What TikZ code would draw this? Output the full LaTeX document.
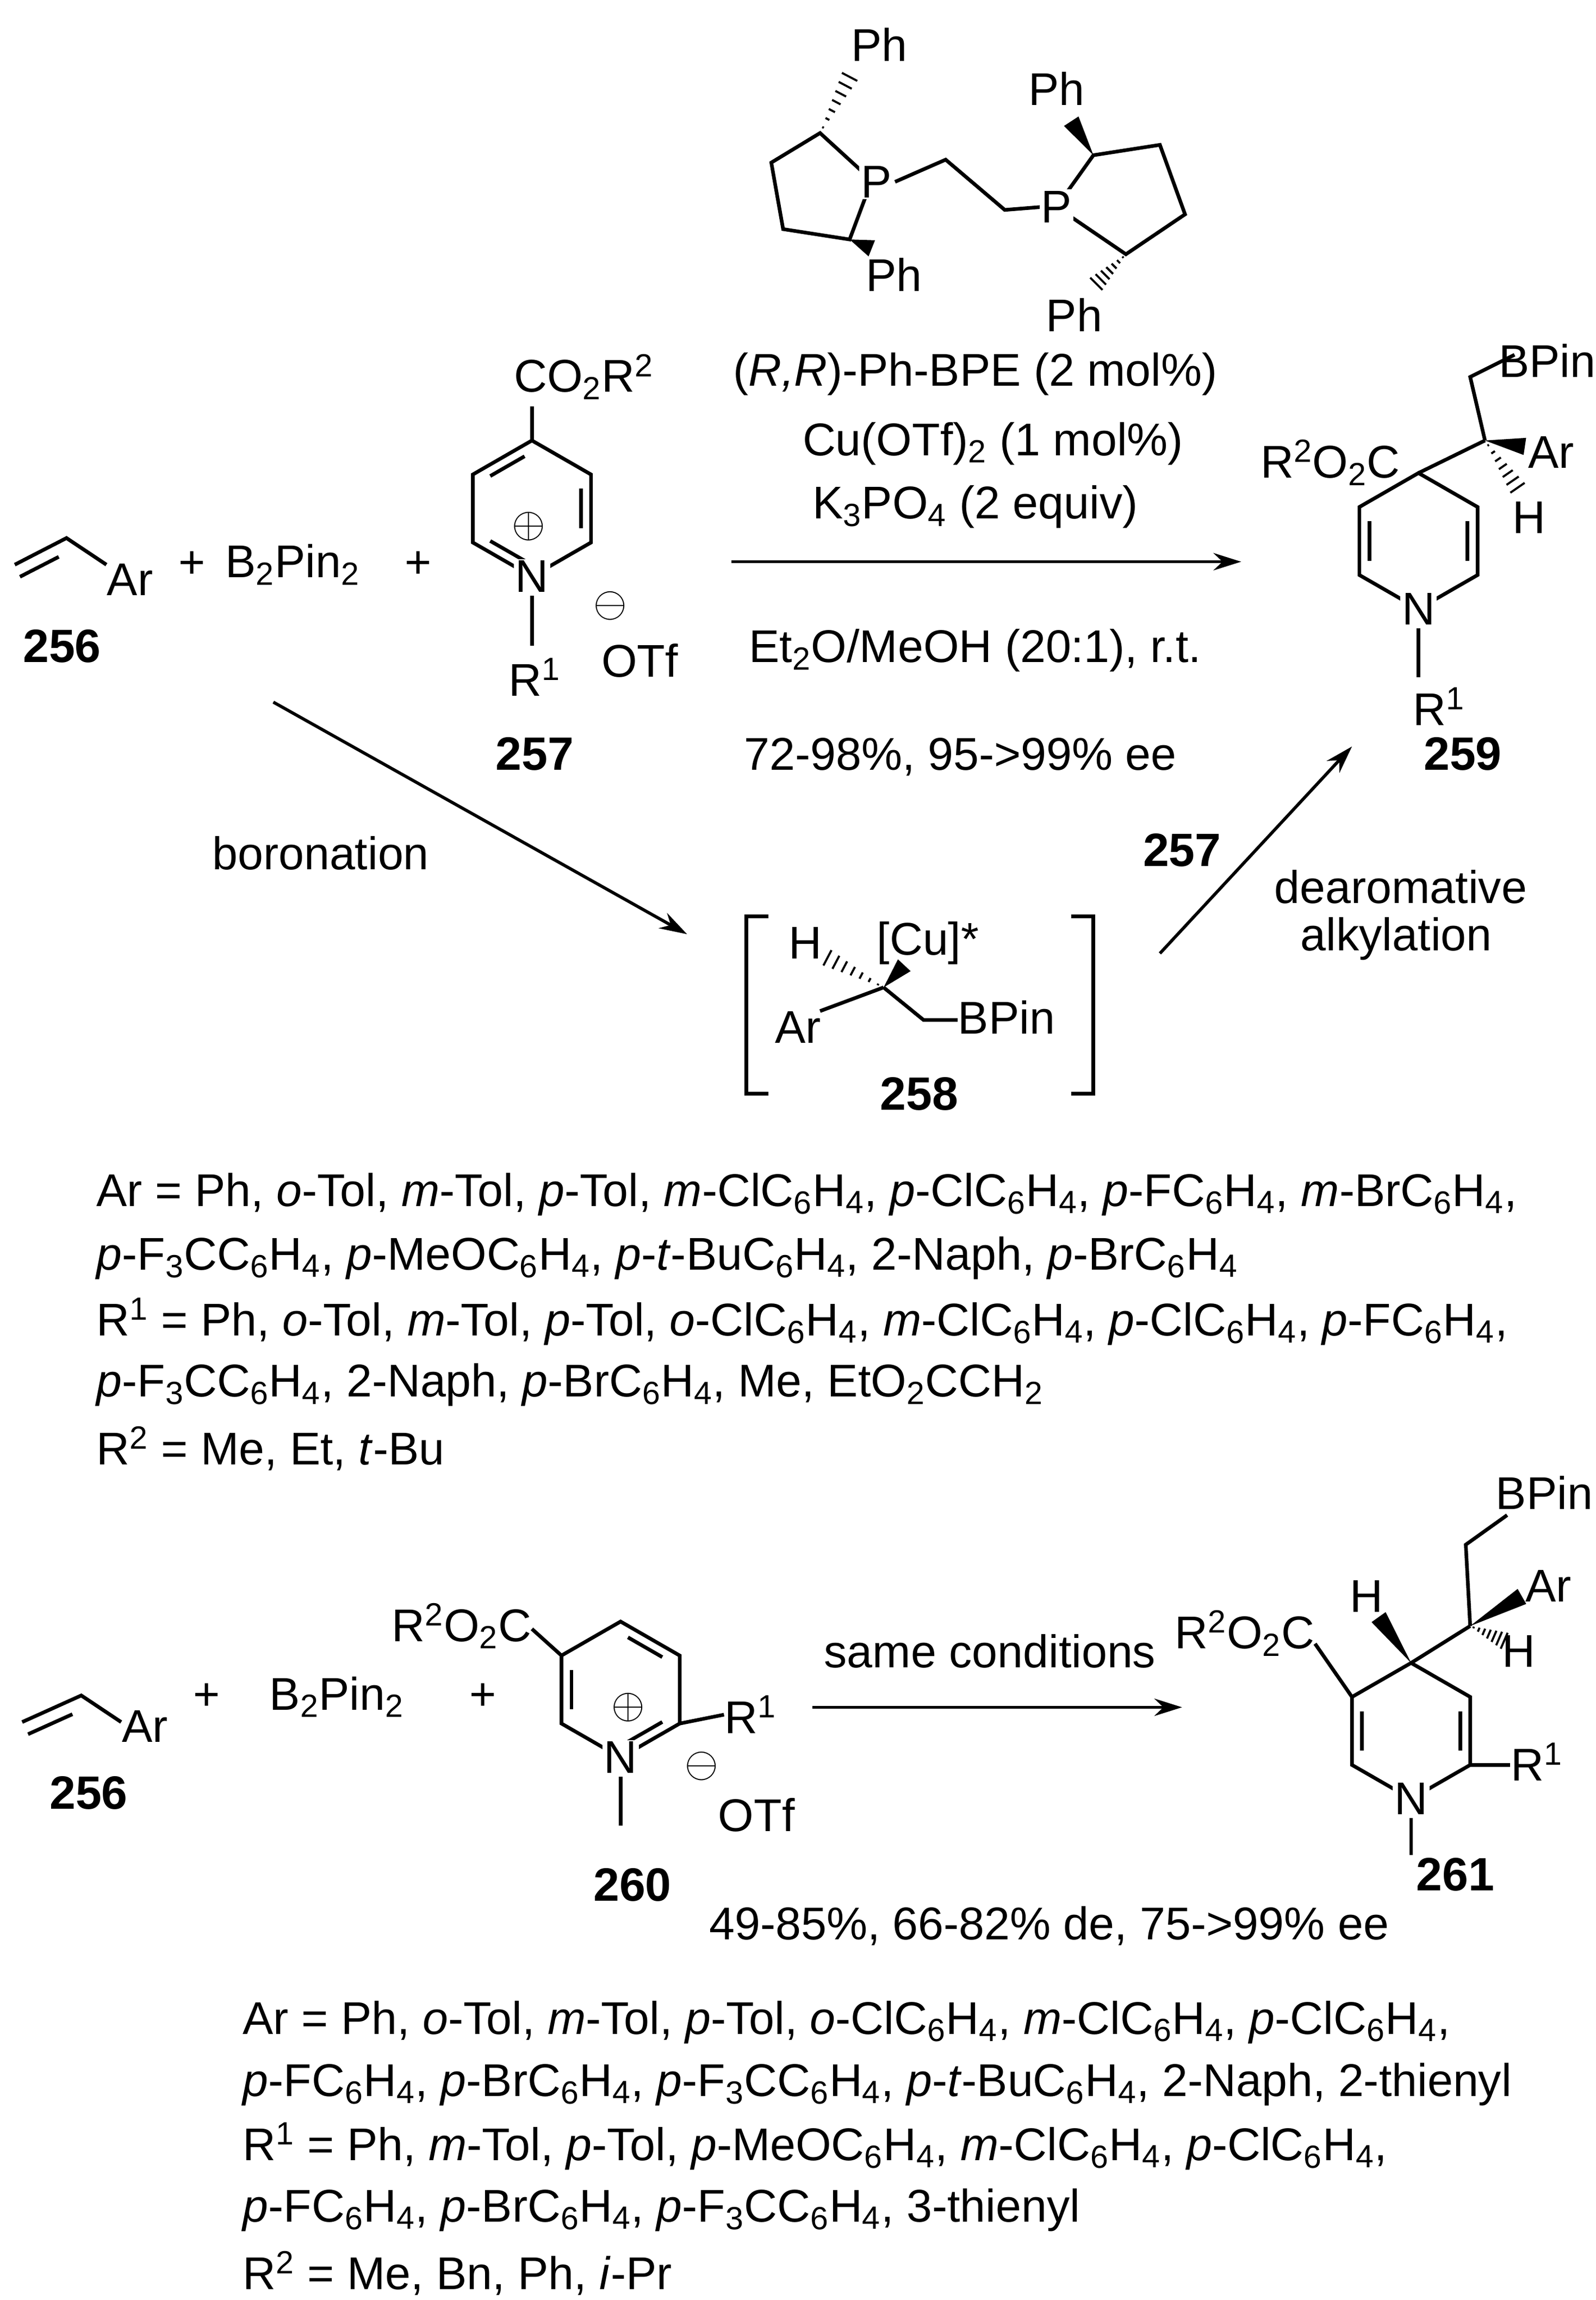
\documentclass[tikz,border=0pt]{standalone}
\usepackage{fontspec}
\setmainfont{Liberation Sans}
\usetikzlibrary{calc,arrows.meta}
\newcommand{\dbl}[3]{\draw ($(#1)!.15!(#2)!.17!(#3)$) -- ($(#2)!.15!(#1)!.17!(#3)$);}
\newcommand{\wdg}[2]{\fill (#1) -- ($(#2)!5pt!90:(#1)$) -- ($(#2)!5pt!-90:(#1)$) -- cycle;}
\newcommand{\hsh}[2]{\foreach \t in {0.1,0.25,...,1.0}{\draw[line width=1.2pt] ($(#1)!\t!(#2)!\t*5pt!90:(#1)$) -- ($(#1)!\t!(#2)!\t*5pt!-90:(#1)$);}}
\begin{document}
\begin{tikzpicture}[x=0.03cm,y=-0.03cm,line width=2.1pt,
  txt/.style={inner sep=1pt,font=\fontsize{26.5}{30}\selectfont},
  atom/.style={txt,fill=white,inner sep=1pt},
  lbl/.style={txt,font=\fontsize{27}{30}\selectfont\bfseries},
  rxn/.style={-{Stealth[length=16pt,width=10pt]},line width=1.8pt}]
\useasboundingbox (0,0) rectangle (1080,1556);
% ---- ligand
\coordinate (a1) at (555,90); \coordinate (a2) at (522,110); \coordinate (a3) at (530,155);
\coordinate (a4) at (575,162); \coordinate (a5) at (590,122);
\draw (a5)--(a1)--(a2)--(a3)--(a4)--(a5);
\node[atom] (P1) at (593,123) {P};
\node[txt] (ph1) at (595,30) {Ph}; \hsh{a1}{575,52}
\node[txt] (ph2) at (605,186) {Ph}; \wdg{a4}{590,168}
\coordinate (e1) at (640,108); \coordinate (e2) at (680,142);
\draw (P1.east) -- (e1) -- (e2) -- (705,140);
\coordinate (b1) at (740,105); \coordinate (b2) at (785,98); \coordinate (b3) at (802,145);
\coordinate (b4) at (762,172); \coordinate (b5) at (715,140);
\draw (b5)--(b1)--(b2)--(b3)--(b4)--(b5);
\node[atom] (P2) at (715,140) {P};
\node[txt] (ph3) at (715,60) {Ph}; \wdg{b1}{725,82}
\node[txt] (ph4) at (727,213) {Ph}; \hsh{b4}{742,192}
\node[txt] at (660,253) {(\textit{R,R})-Ph-BPE (2 mol\%)};
\node[txt] at (672,300) {Cu(OTf)\textsubscript{2} (1 mol\%)};
\node[txt] at (660,343) {K\textsubscript{3}PO\textsubscript{4} (2 equiv)};
\node[txt] at (660,440) {Et\textsubscript{2}O/MeOH (20:1), r.t.};
\node[txt] at (650,512) {72-98\%, 95->99\% ee};
% ---- styrene 256
\coordinate (s1) at (10,382); \coordinate (s2) at (45,364); \coordinate (s3) at (72,382);
\draw (s1)--(s2)--(s3); \draw ($(s1)!.1!(s2)+(0,10)$)--($(s2)!.15!(s1)+(0,10)$);
\node[txt] (ar1) at (88,392) {Ar};
\node[lbl] (n256) at (42,437) {256};
\node[txt] at (130,382) {+};
\node[txt] (b2p) at (198,382) {B\textsubscript{2}Pin\textsubscript{2}};
\node[txt] at (283,382) {+};
% ---- 257
\coordinate (c) at (360,344);
\coordinate (r1) at (360,298); \coordinate (r2) at (400,321); \coordinate (r3) at (400,367);
\coordinate (r4) at (360,390); \coordinate (r5) at (320,367); \coordinate (r6) at (320,321);
\draw (r1)--(r2)--(r3)--(r4)--(r5)--(r6)--cycle;
\dbl{r2}{r3}{c}\dbl{r6}{r1}{c}\dbl{r4}{r5}{c}
\node[atom] (N1) at (r4) {N};
\node[txt] at (358,356) {$\oplus$};
\draw (r1)--(360,275);
\node[txt] (co2) at (395,255) {CO\textsubscript{2}R\textsuperscript{2}};
\draw (N1.south)--(360,437);
\node[txt] (R1a) at (362,458) {R\textsuperscript{1}};
\node[txt] at (413,410) {$\ominus$};
\node[txt] at (433,447) {OTf};
\node[lbl] (n257) at (362,510) {257};
% ---- main arrow
\coordinate (m1) at (495,380); \coordinate (m2) at (840,380);
\draw[rxn] (m1)--(m2);
% ---- 259
\coordinate (d) at (960,366);
\coordinate (q1) at (960,320); \coordinate (q2) at (1000,343); \coordinate (q3) at (1000,389);
\coordinate (q4) at (960,412); \coordinate (q5) at (920,389); \coordinate (q6) at (920,343);
\draw (q1)--(q2)--(q3)--(q4)--(q5)--(q6)--cycle;
\dbl{q2}{q3}{d}\dbl{q5}{q6}{d}
\node[atom] (N2) at (q4) {N};
\draw (N2.south)--(960,458);
\node[txt] (R1b) at (974,478) {R\textsuperscript{1}};
\node[txt,anchor=east] (est1) at (950,313) {R\textsuperscript{2}O\textsubscript{2}C};
\coordinate (ca) at (1005,298);
\draw (q1)--(ca);
\draw (ca)--(995,255)--(1025,240);
\node[txt,anchor=west] at (1012,244) {BPin};
\node[txt,anchor=west] at (1032,306) {Ar}; \wdg{ca}{1032,302}
\node[txt] at (1035,350) {H}; \hsh{ca}{1027,330}
\node[lbl] (n259) at (990,510) {259};
% ---- 258
\draw (520,620)--(505,620)--(505,740)--(520,740);
\draw (725,620)--(740,620)--(740,740)--(725,740);
\coordinate (ci) at (598,668);
\node[txt] at (545,638) {H}; \hsh{ci}{560,648}
\node[txt] at (628,638) {[Cu]*}; \wdg{ci}{612,653}
\node[txt] (ar2) at (540,695) {Ar};
\draw (ci)--(555,684);
\draw (ci)--(625,690)--(648,690);
\node[txt,anchor=west] (bp2) at (646,688) {BPin};
\node[lbl] (n258) at (622,740) {258};
% ---- arrows
\coordinate (t1) at (185,475); \coordinate (t2) at (465,632);
\draw[rxn] (t1)--(t2);
\coordinate (u1) at (785,645); \coordinate (u2) at (915,505);
\draw[rxn] (u1)--(u2);
\node[txt] at (217,577) {boronation};
\node[lbl] at (800,575) {257};
\node[txt] at (948,600) {dearomative};
\node[txt] at (945,635) {alkylation};
% ---- text block 1
\begin{scope}[every node/.style={txt,anchor=west}]
\node at (63,808) {Ar = Ph, \textit{o}-Tol, \textit{m}-Tol, \textit{p}-Tol, \textit{m}-ClC\textsubscript{6}H\textsubscript{4}, \textit{p}-ClC\textsubscript{6}H\textsubscript{4}, \textit{p}-FC\textsubscript{6}H\textsubscript{4}, \textit{m}-BrC\textsubscript{6}H\textsubscript{4},};
\node at (63,851) {\textit{p}-F\textsubscript{3}CC\textsubscript{6}H\textsubscript{4}, \textit{p}-MeOC\textsubscript{6}H\textsubscript{4}, \textit{p}-\textit{t}-BuC\textsubscript{6}H\textsubscript{4}, 2-Naph, \textit{p}-BrC\textsubscript{6}H\textsubscript{4}};
\node at (63,894) {R\textsuperscript{1} = Ph, \textit{o}-Tol, \textit{m}-Tol, \textit{p}-Tol, \textit{o}-ClC\textsubscript{6}H\textsubscript{4}, \textit{m}-ClC\textsubscript{6}H\textsubscript{4}, \textit{p}-ClC\textsubscript{6}H\textsubscript{4}, \textit{p}-FC\textsubscript{6}H\textsubscript{4},};
\node at (63,937) {\textit{p}-F\textsubscript{3}CC\textsubscript{6}H\textsubscript{4}, 2-Naph, \textit{p}-BrC\textsubscript{6}H\textsubscript{4}, Me, EtO\textsubscript{2}CCH\textsubscript{2}};
\node at (63,980) {R\textsuperscript{2} = Me, Et, \textit{t}-Bu};
\end{scope}
% ---- bottom: styrene
\coordinate (s4) at (15,1165); \coordinate (s5) at (55,1147); \coordinate (s6) at (82,1165);
\draw (s4)--(s5)--(s6); \draw ($(s4)!.1!(s5)+(0,10)$)--($(s5)!.15!(s4)+(0,10)$);
\node[txt] (ar3) at (98,1168) {Ar};
\node[lbl] (n256b) at (60,1213) {256};
\node[txt] at (140,1148) {+};
\node[txt] (b2pb) at (228,1148) {B\textsubscript{2}Pin\textsubscript{2}};
\node[txt] at (327,1148) {+};
% ---- 260
\coordinate (e) at (420,1143);
\coordinate (p1) at (420,1097); \coordinate (p2) at (460,1120); \coordinate (p3) at (460,1166);
\coordinate (p4) at (420,1189); \coordinate (p5) at (380,1166); \coordinate (p6) at (380,1120);
\draw (p1)--(p2)--(p3)--(p4)--(p5)--(p6)--cycle;
\dbl{p1}{p2}{e}\dbl{p3}{p4}{e}\dbl{p5}{p6}{e}
\node[atom] (N3) at (p4) {N};
\node[txt] at (425,1155) {$\oplus$};
\draw (p6)--(360,1102);
\node[txt,anchor=east] (est2) at (362,1100) {R\textsuperscript{2}O\textsubscript{2}C};
\draw (p3)--(490,1160);
\node[txt,anchor=west] (R1c) at (488,1160) {R\textsuperscript{1}};
\draw (N3.south)--(420,1235);
\node[txt] at (475,1195) {$\ominus$};
\node[txt] at (512,1228) {OTf};
\node[lbl] (n260) at (428,1275) {260};
\coordinate (m3) at (550,1155); \coordinate (m4) at (800,1155);
\draw[rxn] (m3)--(m4);
\node[txt] at (670,1117) {same conditions};
\node[txt] at (710,1303) {49-85\%, 66-82\% de, 75->99\% ee};
% ---- 261
\coordinate (f) at (955,1171);
\coordinate (v1) at (955,1125); \coordinate (v2) at (995,1148); \coordinate (v3) at (995,1194);
\coordinate (v4) at (955,1217); \coordinate (v5) at (915,1194); \coordinate (v6) at (915,1148);
\draw (v1)--(v2)--(v3)--(v4)--(v5)--(v6)--cycle;
\dbl{v2}{v3}{f}\dbl{v5}{v6}{f}
\node[atom] (N4) at (v4) {N};
\draw (N4.south)--(955,1255);
\draw (v6)--(890,1112);
\node[txt,anchor=east] (est3) at (892,1105) {R\textsuperscript{2}O\textsubscript{2}C};
\draw (v3)--(1022,1194);
\node[txt,anchor=west] (R1d) at (1020,1192) {R\textsuperscript{1}};
\node[txt] (h4) at (925,1080) {H}; \wdg{v1}{933,1094}
\coordinate (cb) at (995,1100);
\draw (v1)--(cb);
\draw (cb)--(992,1045)--(1020,1025);
\node[txt,anchor=west] at (1010,1010) {BPin};
\node[txt,anchor=west] at (1030,1073) {Ar}; \wdg{cb}{1030,1080}
\node[txt] at (1028,1117) {H}; \hsh{cb}{1018,1110}
\node[lbl] (n261) at (985,1268) {261};
% ---- text block 2
\begin{scope}[every node/.style={txt,anchor=west}]
\node at (162,1368) {Ar = Ph, \textit{o}-Tol, \textit{m}-Tol, \textit{p}-Tol, \textit{o}-ClC\textsubscript{6}H\textsubscript{4}, \textit{m}-ClC\textsubscript{6}H\textsubscript{4}, \textit{p}-ClC\textsubscript{6}H\textsubscript{4},};
\node at (162,1410) {\textit{p}-FC\textsubscript{6}H\textsubscript{4}, \textit{p}-BrC\textsubscript{6}H\textsubscript{4}, \textit{p}-F\textsubscript{3}CC\textsubscript{6}H\textsubscript{4}, \textit{p}-\textit{t}-BuC\textsubscript{6}H\textsubscript{4}, 2-Naph, 2-thienyl};
\node at (162,1452) {R\textsuperscript{1} = Ph, \textit{m}-Tol, \textit{p}-Tol, \textit{p}-MeOC\textsubscript{6}H\textsubscript{4}, \textit{m}-ClC\textsubscript{6}H\textsubscript{4}, \textit{p}-ClC\textsubscript{6}H\textsubscript{4},};
\node at (162,1495) {\textit{p}-FC\textsubscript{6}H\textsubscript{4}, \textit{p}-BrC\textsubscript{6}H\textsubscript{4}, \textit{p}-F\textsubscript{3}CC\textsubscript{6}H\textsubscript{4}, 3-thienyl};
\node at (162,1538) {R\textsuperscript{2} = Me, Bn, Ph, \textit{i}-Pr};
\end{scope}
\end{tikzpicture}
\end{document}
